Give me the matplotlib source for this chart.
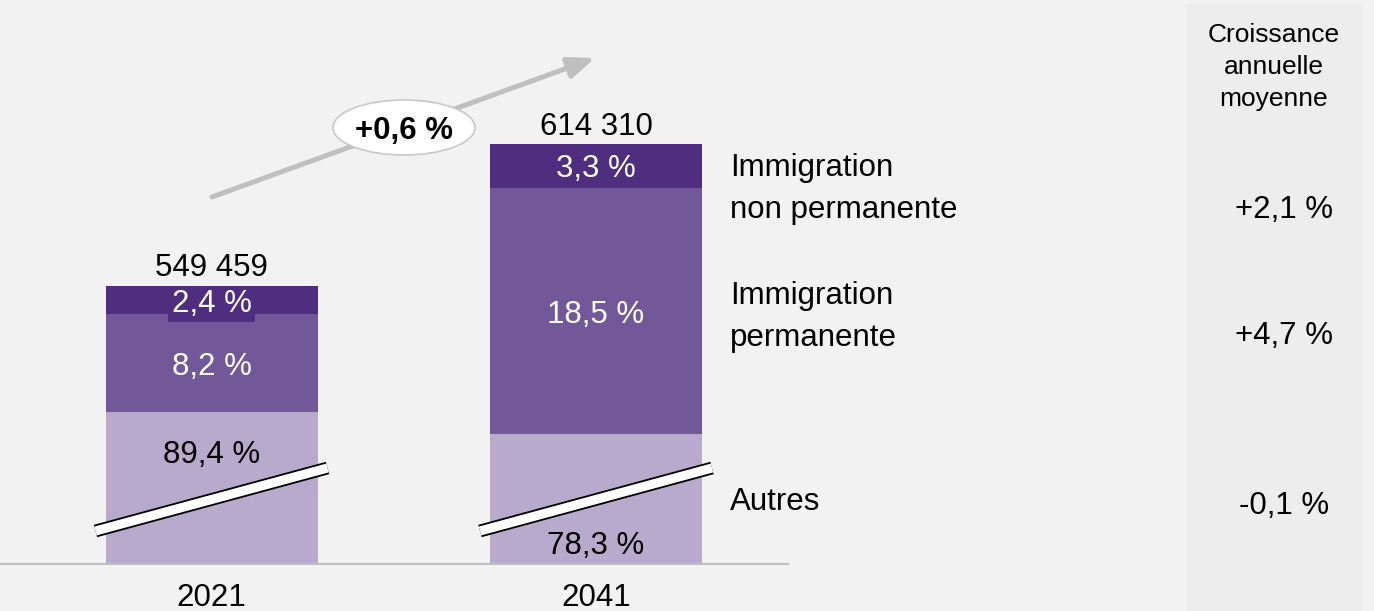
import numpy as np
import matplotlib.pyplot as plt
from matplotlib.patches import Ellipse, Rectangle

plt.rcParams['font.family'] = ['Liberation Sans', 'DejaVu Sans']

# data
years = ['2021', '2041']
totals = np.array([549459, 614310])
share_autres = np.array([89.4, 78.3])
share_perm = np.array([8.2, 18.5])
share_nonperm = np.array([2.4, 3.3])
labels = ['Immigration\nnon permanente', 'Immigration\npermanente', 'Autres']
growth = ['+2,1 %', '+4,7 %', '-0,1 %']
growth_total = '+0,6 %'
growth_title = 'Croissance\nannuelle\nmoyenne'

autres = totals * share_autres / 100
perm = totals * share_perm / 100
nonperm = totals * share_nonperm / 100

c_dark = '#4f2d7f'
c_mid = '#725898'
c_light = '#b8aacc'
bg = '#f2f2f2'

W, H = 1374, 611
fs = 22.5

def fx(px):
    return px / W

def fy(py):
    return (H - py) / H

fig = plt.figure(figsize=(W / 100, H / 100), dpi=100, facecolor=bg)
fig.add_artist(Rectangle((fx(1186), 0), fx(1363) - fx(1186), fy(4), transform=fig.transFigure,
                         facecolor='#ededed', edgecolor='none', zorder=-1))

base_px = 564.5
ax = fig.add_axes([0, fy(base_px), 1, base_px / H])
ax.patch.set_visible(False)
for s in ax.spines.values():
    s.set_visible(False)

# broken axis: the bottom of the 'Autres' part is cut off
cut = 421000
per_px = 461
ax.set_ylim(cut, cut + base_px * per_px)
step = 384.5
ax.set_xlim(-211.5 / step, (W - 211.5) / step)
x = np.arange(len(years))
width = 212 / step

ax.bar(x, autres, width, color=c_light, zorder=2)
ax.bar(x, perm, width, bottom=autres, color=c_mid, zorder=2)
ax.bar(x, nonperm, width, bottom=autres + perm, color=c_dark, zorder=2)

def pct(v):
    return f'{v:.1f} %'.replace('.', ',')

for i in range(len(years)):
    ax.text(x[i], autres[i] + perm[i] + nonperm[i] / 2, pct(share_nonperm[i]), ha='center',
            va='center_baseline', color='white', fontsize=fs, zorder=5,
            bbox=dict(boxstyle='square,pad=0.1', facecolor=c_dark, edgecolor='none'))
    ax.text(x[i], autres[i] + perm[i] / 2, pct(share_perm[i]), ha='center', va='center_baseline',
            color='white', fontsize=fs, zorder=5)
    ax.annotate(f'{totals[i]:,}'.replace(',', ' '), (x[i], totals[i]), xytext=(0, 2),
                textcoords='offset points', ha='center', va='bottom', fontsize=fs)

    # break marks
    ov = 10 / step
    bx = [x[i] - width / 2 - ov, x[i] + width / 2 + ov]
    by = [cut + 33.5 * per_px, cut + 96.5 * per_px]
    ax.plot(bx, by, color='black', lw=9.2, solid_capstyle='butt', zorder=3, clip_on=False)
    ax.plot(bx, by, color='white', lw=6.6, solid_capstyle='butt', zorder=4, clip_on=False)

ax.annotate(pct(share_autres[0]), (x[0], autres[0]), xytext=(0, -28), textcoords='offset points',
            ha='center', va='center_baseline', fontsize=fs, zorder=5)
ax.annotate(pct(share_autres[1]), (x[1], cut), xytext=(0, 15.5), textcoords='offset points',
            ha='center', va='center_baseline', fontsize=fs, zorder=5)

ax.axhline(cut, xmin=0, xmax=fx(788), color='#bfbfbf', lw=1.6, zorder=3)
ax.set_xticks(x, years)
ax.tick_params(axis='x', length=0, pad=13.5, labelsize=fs)
ax.set_yticks([])

# overall growth arrow
ax.annotate('', xy=(fx(595), fy(58)), xytext=(fx(212), fy(197)), xycoords='figure fraction',
            textcoords='figure fraction', zorder=4,
            arrowprops=dict(arrowstyle='-|>,head_length=0.8,head_width=0.32', color='#bfbfbf',
                            lw=3.6, mutation_scale=20, shrinkA=0, shrinkB=0))
ax.add_patch(Ellipse((fx(404), fy(127.5)), fx(142), 55 / H, transform=fig.transFigure,
                     facecolor='white', edgecolor='#c8c8c8', lw=1.2, zorder=5, clip_on=False))
ax.text(fx(404), fy(127.5), growth_total, transform=fig.transFigure, ha='center',
        va='center_baseline', fontsize=fs, fontweight='bold', zorder=6)

# category labels and growth column
label_y = [189, 317, 502]
growth_y = [207, 333, 503]
for lab, ly, g, gy in zip(labels, label_y, growth, growth_y):
    fig.text(fx(730), fy(ly), lab, ha='left', va='center', fontsize=fs, linespacing=1.52)
    fig.text(fx(1284), fy(gy), g, ha='center', va='center_baseline', fontsize=fs)
fig.text(fx(1274), fy(67), growth_title, ha='center', va='center', fontsize=19, linespacing=1.4)

fig.savefig('out.png', dpi=100, facecolor=bg)
